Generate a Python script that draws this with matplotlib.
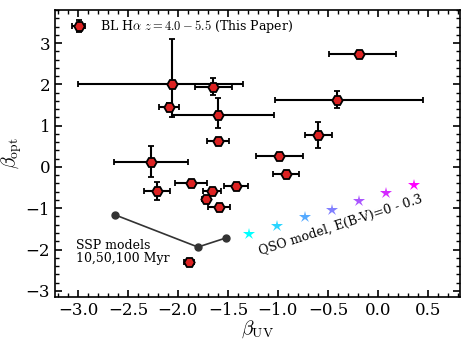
import matplotlib
matplotlib.use("Agg")
import matplotlib.pyplot as plt
import numpy as np

plt.rcParams['font.family'] = 'DejaVu Serif'
plt.rcParams['mathtext.fontset'] = 'cm'

# BL Halpha sample
beta_uv = [-2.06, -1.65, -2.09, -1.60, -1.60, -2.27, -0.19, -0.41, -0.60, -0.99,
           -0.92, -2.21, -1.87, -1.66, -1.72, -1.59, -1.42, -1.89]
beta_uv_lo = [0.94, 0.18, 0.10, 0.46, 0.11, 0.37, 0.30, 0.62, 0.13, 0.23,
              0.13, 0.13, 0.16, 0.09, 0.04, 0.11, 0.12, 0.05]
beta_uv_hi = [0.71, 0.19, 0.10, 0.56, 0.11, 0.37, 0.37, 0.86, 0.14, 0.24,
              0.13, 0.13, 0.16, 0.09, 0.04, 0.11, 0.12, 0.05]
beta_opt = [2.01, 1.93, 1.45, 1.25, 0.63, 0.11, 2.74, 1.62, 0.77, 0.27,
            -0.17, -0.58, -0.38, -0.58, -0.77, -0.96, -0.47, -2.30]
beta_opt_lo = [0.80, 0.18, 0.09, 0.31, 0.04, 0.35, 0.04, 0.20, 0.32, 0.04,
               0.04, 0.22, 0.04, 0.04, 0.04, 0.04, 0.04, 0.04]
beta_opt_hi = [1.10, 0.23, 0.09, 0.42, 0.04, 0.40, 0.04, 0.22, 0.32, 0.04,
               0.04, 0.22, 0.04, 0.04, 0.04, 0.04, 0.04, 0.04]

# SSP models (10, 50, 100 Myr)
ssp_uv = [-2.63, -1.80, -1.52]
ssp_opt = [-1.16, -1.94, -1.72]

# QSO model, E(B-V) = 0 - 0.3
qso_uv = [-1.285, -1.01, -0.73, -0.46, -0.19, 0.08, 0.36]
qso_opt = [-1.62, -1.43, -1.21, -1.04, -0.82, -0.63, -0.44]

fig = plt.figure(figsize=(4.64, 3.46), dpi=100)
ax = fig.add_axes([0.1185, 0.1416, 0.8725, 0.8294])

ax.errorbar(beta_uv, beta_opt,
            xerr=[beta_uv_lo, beta_uv_hi], yerr=[beta_opt_lo, beta_opt_hi],
            fmt='H', color='k', mfc='#dd2222', mec='k', mew=1.3, ms=7.5,
            elinewidth=1.5, capsize=2.5, capthick=1.5, ecolor='k',
            label=r'BL H$\alpha$ $z=4.0-5.5$ (This Paper)', zorder=3)

ax.plot(ssp_uv, ssp_opt, '-o', color='#333333', ms=5, lw=1.2, zorder=2)
ax.text(-3.02, -2.05, 'SSP models\n10,50,100 Myr', fontsize=9,
        ha='left', va='center', linespacing=1.0)

cols = plt.cm.cool(np.linspace(0, 1, len(qso_uv)))
for xx, yy, c in zip(qso_uv, qso_opt, cols):
    ax.plot(xx, yy, '*', color=c, ms=9, mew=0, zorder=2)
ax.text(-0.37, -1.40, 'QSO model, E(B-V)=0 - 0.3', fontsize=9,
        rotation=18, ha='center', va='center', rotation_mode='anchor')

ax.set_xlim(-3.23, 0.82)
ax.set_ylim(-3.15, 3.8)
ax.set_xticks([-3.0, -2.5, -2.0, -1.5, -1.0, -0.5, 0.0, 0.5])
ax.set_yticks([-3, -2, -1, 0, 1, 2, 3])
ax.xaxis.set_minor_locator(matplotlib.ticker.MultipleLocator(0.1))
ax.yaxis.set_minor_locator(matplotlib.ticker.MultipleLocator(0.2))
ax.tick_params(which='both', direction='in', top=True, right=True, labelsize=12)
ax.tick_params(which='major', length=5, width=1.2)
ax.tick_params(which='minor', length=3, width=1.0)
for s in ax.spines.values():
    s.set_linewidth(1.2)

ax.set_xlabel(r'$\beta_{\rm UV}$', fontsize=14, labelpad=0)
ax.set_ylabel(r'$\beta_{\rm opt}$', fontsize=14, labelpad=1)

ax.legend(loc='upper left', frameon=False, fontsize=9, handletextpad=0.9,
          borderaxespad=0.6, handlelength=1.6, bbox_to_anchor=(0.003, 1.015))

fig.savefig('out.png', dpi=100)
